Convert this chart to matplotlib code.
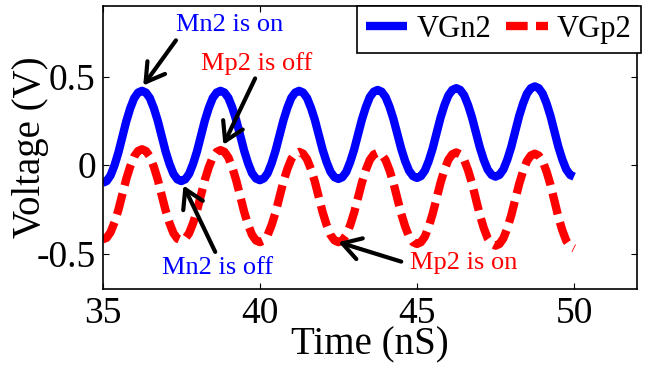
import numpy as np
import matplotlib
matplotlib.use("Agg")
import matplotlib.pyplot as plt

plt.rcParams["font.family"] = ["Liberation Serif", "DejaVu Serif"]
plt.rcParams["axes.unicode_minus"] = False

# sample times (ns), every 0.125 ns
time_ns = np.linspace(35, 50, 121)

# gate voltage of Mn2 (V)
vgn2 = [
    -0.100, -0.090, -0.058, -0.001, 0.072, 0.160, 0.248, 0.321, 0.378, 0.410, 0.420,
    0.410, 0.379, 0.323, 0.252, 0.165, 0.078, 0.007, -0.049, -0.080, -0.090,
    -0.080, -0.049, 0.007, 0.078, 0.165, 0.252, 0.323, 0.379, 0.410, 0.420,
    0.410, 0.380, 0.324, 0.253, 0.168, 0.082, 0.011, -0.045, -0.075, -0.085,
    -0.075, -0.045, 0.011, 0.082, 0.168, 0.253, 0.324, 0.380, 0.410, 0.420,
    0.410, 0.380, 0.325, 0.256, 0.171, 0.086, 0.017, -0.038, -0.068, -0.078,
    -0.068, -0.038, 0.018, 0.088, 0.174, 0.259, 0.329, 0.385, 0.415, 0.425,
    0.415, 0.385, 0.331, 0.261, 0.177, 0.092, 0.022, -0.032, -0.062, -0.072,
    -0.062, -0.031, 0.024, 0.095, 0.182, 0.268, 0.339, 0.394, 0.425, 0.435,
    0.425, 0.395, 0.340, 0.270, 0.185, 0.100, 0.030, -0.025, -0.055, -0.065,
    -0.055, -0.024, 0.032, 0.103, 0.190, 0.277, 0.348, 0.404, 0.435, 0.445,
    0.435, 0.404, 0.348, 0.277, 0.190, 0.103, 0.032, -0.024, -0.055, -0.065,
]

# gate voltage of Mp2 (V)
vgp2 = [
    -0.420, -0.410, -0.379, -0.323, -0.252, -0.165, -0.078, -0.007, 0.049, 0.080, 0.090,
    0.080, 0.049, -0.008, -0.080, -0.168, -0.255, -0.327, -0.384, -0.415, -0.425,
    -0.415, -0.384, -0.328, -0.257, -0.170, -0.083, -0.012, 0.044, 0.075, 0.085,
    0.075, 0.043, -0.014, -0.087, -0.175, -0.263, -0.336, -0.393, -0.425, -0.435,
    -0.425, -0.394, -0.338, -0.267, -0.180, -0.093, -0.022, 0.034, 0.065, 0.075,
    0.065, 0.034, -0.022, -0.093, -0.180, -0.267, -0.338, -0.394, -0.425, -0.435,
    -0.425, -0.395, -0.339, -0.268, -0.183, -0.097, -0.026, 0.030, 0.060, 0.070,
    0.060, 0.029, -0.028, -0.100, -0.188, -0.275, -0.347, -0.404, -0.435, -0.445,
    -0.435, -0.404, -0.347, -0.274, -0.187, -0.099, -0.026, 0.031, 0.062, 0.072,
    0.061, 0.030, -0.028, -0.102, -0.192, -0.281, -0.355, -0.413, -0.444, -0.455,
    -0.445, -0.413, -0.356, -0.283, -0.195, -0.107, -0.034, 0.023, 0.055, 0.065,
    0.054, 0.022, -0.037, -0.112, -0.202, -0.293, -0.368, -0.427, -0.459, -0.470,
]

x_ticks = [35, 40, 45, 50]
y_ticks = [-0.5, 0, 0.5]
y_tick_labels = ["-0.5", "0", "0.5"]

# annotations: text, text position, arrow start, arrow tip, colour
notes = [
    ("Mn2 is on", (39.05, 0.79), (37.33, 0.705), (36.29, 0.45), "blue"),
    ("Mp2 is off", (39.9, 0.576), (39.85, 0.49), (38.84, 0.115), "red"),
    ("Mn2 is off", (38.66, -0.58), (38.58, -0.49), (37.57, -0.115), "blue"),
    ("Mp2 is on", (46.5, -0.555), (44.5, -0.545), (42.5, -0.435), "red"),
]

fig = plt.figure(figsize=(6.46, 3.65), dpi=100)
ax = fig.add_axes([0.159, 0.208, 0.827, 0.776])

ax.plot(time_ns, vgn2, color="blue", lw=6, label="VGn2", solid_capstyle="butt")
red_line, = ax.plot(time_ns, vgp2, color="red", lw=6, label="VGp2")
red_line.set_dashes((2.6, 1.0))

for text, txt_pos, start, tip, col in notes:
    ax.text(txt_pos[0], txt_pos[1], text, color=col, fontsize=19,
            ha="center", va="center")
    ax.annotate("", xy=tip, xytext=start,
                arrowprops=dict(arrowstyle="->,head_length=0.5,head_width=0.3",
                                lw=3, color="black", mutation_scale=26,
                                shrinkA=0, shrinkB=0))

ax.set_xlim(35, 52)
ax.set_ylim(-0.7, 0.9)
ax.set_xticks(x_ticks)
ax.set_yticks(y_ticks)
ax.set_yticklabels(y_tick_labels)
ax.tick_params(direction="in", length=4, width=0.8, labelsize=27,
               top=True, right=True)
ax.tick_params(axis="x", pad=5)
ax.tick_params(axis="y", pad=5)
for s in ax.spines.values():
    s.set_linewidth(1.2)

ax.set_xlabel("Time (nS)", fontsize=28, labelpad=-3)
ax.set_ylabel("Voltage (V)", fontsize=28, labelpad=-9)

leg = ax.legend(loc="upper right", bbox_to_anchor=(1.007, 1.0), ncol=2,
                fontsize=22, handlelength=1.35, handletextpad=0.3,
                columnspacing=0.5, borderpad=0.3, borderaxespad=0,
                fancybox=False, framealpha=1, edgecolor="black")
leg.get_frame().set_linewidth(1.2)

fig.savefig("out.png", dpi=100)
